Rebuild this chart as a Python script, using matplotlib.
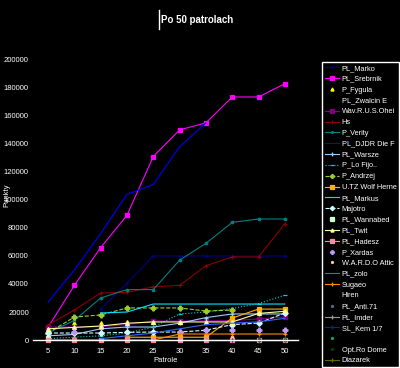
import numpy as np
import matplotlib
matplotlib.use('Agg')
import matplotlib.pyplot as plt
from matplotlib.lines import Line2D

nan = np.nan

# ==========================================
# Data (points after each patrol)
# ==========================================
patrole = [5, 10, 15, 20, 25, 30, 35, 40, 45, 50]

pl_marko = [nan, nan, 22000, 40500, 60000, 60000, 60000, 60000, 60000, 60000]
pl_srebrnik = [9000, 39000, 66000, 89000, 131000, 150000, 155000, 173500, 173500, 183000]
p_fygula = [9300, 12000, 12000, 13000, 13000, 13000, 13000, 15500, 20500, 20000]
pl_zwalcin = [nan, nan, nan, nan, nan, nan, nan, nan, nan, nan]
wav_russ = [9300, 9300, 9500, 11000, 13600, 13600, 13600, 14000, 15000, 16500]
hs = [10700, 21400, 33600, 34000, 38000, 39000, 53000, 59300, 59300, 83000]
p_verity = [5000, 14000, 30000, 36000, 36000, 57000, 69000, 84000, 86400, 86400]
pl_djdr = [27000, 50000, 76000, 104000, 111000, 138000, 155000, nan, nan, nan]
pl_warsze = [3000, 4000, 8000, 9300, 9300, 12000, 16000, 18600, 18600, 18600]
p_lo = [1000, 2000, 3000, 5000, 9300, 18600, 20000, 22500, 26000, 32000]
p_andrzej = [5000, 16400, 17900, 22900, 22900, 22900, 20700, 21400, nan, nan]
utz_wolf = [nan, nan, nan, 2000, 2000, 2000, 2000, 15700, 22100, 22100]
pl_markus = [nan, nan, 19300, 20000, 25700, 25700, 25700, 25700, 25700, 25700]
majotro = [5000, 5000, 5000, 5500, 5700, 5700, 7000, 11000, 12100, 19300]
pl_wannabed = [1500, nan, nan, nan, nan, nan, nan, nan, nan, nan]
pl_twit = [8000, 9000, 10000, 12000, 12900, 12900, 12900, 12900, 19000, 20500]
pl_hadesz = [0, 0, 0, 0, 0, 0, 0, 0, 0, 0]
p_xardas = [nan, 5700, nan, nan, nan, 5700, 7000, 7100, 7100, 7100]
warddo = [nan, nan, nan, nan, nan, nan, nan, 2000, nan, nan]
pl_zolo = [nan, nan, 1000, 3000, 5000, 8000, 11000, 12000, 13000, 15500]
sugaeo = [0, 0, 0, 0, 0, 4300, 4300, 4300, 4300, 4300]
hiren = [nan, nan, nan, nan, nan, nan, nan, nan, nan, nan]
pl_anti = [nan, nan, nan, nan, nan, nan, nan, nan, 1000, 1000]
pl_imder = [nan, nan, nan, nan, nan, nan, 0, 0, 0, 0]
sl_kem = [nan, nan, nan, nan, nan, nan, nan, 0, 0, 0]
bez_nazwy = [nan, nan, nan, nan, nan, nan, nan, nan, nan, 500]
opt_ro = [nan, nan, nan, nan, nan, nan, nan, nan, 300, 300]
diazarek = [nan, nan, nan, nan, nan, nan, nan, nan, nan, 0]

# label, values, colour, marker, linestyle
series = [
    ('PL_Marko', pl_marko, '#000080', '+', '-'),
    ('PL_Srebrnik', pl_srebrnik, '#FF00FF', 's', '-'),
    ('P_Fygula', p_fygula, '#FFFF00', '^', 'none'),
    ('PL_Zwalcin E', pl_zwalcin, '#000000', '', '-'),
    ('Wav.R.U.S.Ohei', wav_russ, '#800080', 's', '-'),
    ('Hs', hs, '#8B0000', '+', '-'),
    ('P_Verity', p_verity, '#008080', '.', '-'),
    ('PL_DJDR Die F', pl_djdr, '#0000FF', '', '-'),
    ('PL_Warsze', pl_warsze, '#99CCFF', '+', '-'),
    ('P_Lo Fijo..', p_lo, '#00CED1', '_', ':'),
    ('P_Andrzej', p_andrzej, '#9ACD32', 'P', '--'),
    ('U.TZ Wolf Herne', utz_wolf, '#FFB000', 's', '-'),
    ('PL_Markus', pl_markus, '#00E5FF', '', '-'),
    ('Majotro', majotro, '#CCFFFF', 'D', '--'),
    ('PL_Wannabed', pl_wannabed, '#CCFFCC', 's', 'none'),
    ('PL_Twit', pl_twit, '#FFFF99', '^', '-'),
    ('PL_Hadesz', pl_hadesz, '#FF88AA', 's', '-'),
    ('P_Xardas', p_xardas, '#BB99FF', 'P', 'none'),
    ('W.A.R.D.O Attic', warddo, '#FFCC99', '.', 'none'),
    ('PL_zolo', pl_zolo, '#3366FF', '', '-'),
    ('Sugaeo', sugaeo, '#FF8C00', '+', '-'),
    ('Hiren', hiren, '#000000', '', '-'),
    ('PL_Anti.71', pl_anti, '#556699', '.', 'none'),
    ('PL_Imder', pl_imder, '#999999', '+', '-'),
    ('SL_Kem 1/7', sl_kem, '#003366', '+', '-'),
    (' ', bez_nazwy, '#00AA66', '.', 'none'),
    ('Opt.Ro Dome', opt_ro, '#004400', '.', 'none'),
    ('Diazarek', diazarek, '#666600', '+', '-'),
]

# ==========================================
# Plot
# ==========================================
plt.rcParams['font.family'] = ['Liberation Sans', 'DejaVu Sans']
fig = plt.figure(figsize=(4.0, 3.68), dpi=100, facecolor='black')
ax = fig.add_axes([0.0825, 0.076, 0.6625, 0.788], facecolor='black')

for label, vals, color, marker, ls in series:
    ms = 2.8 if marker in ('s', 'D', '^') else 3.5
    ax.plot(patrole, vals, color=color, marker=marker, linestyle=ls,
            linewidth=0.8, markersize=ms, markeredgewidth=0.9,
            label=label, clip_on=False)

ax.set_xlim(2.15, 52.5)
ax.set_ylim(0, 207000)
ax.set_xticks(patrole)
ax.set_yticks(np.arange(0, 200001, 20000))
ax.tick_params(colors='white', labelsize=5.5, length=0)
ax.tick_params(axis='y', pad=3)
ax.tick_params(axis='x', pad=6)
for s in ['top', 'right', 'left']:
    ax.spines[s].set_visible(False)
ax.spines['bottom'].set_color('white')
ax.spines['bottom'].set_linewidth(1.0)

ax.set_xlabel('Patrole', color='white', fontsize=5.5, labelpad=1)
ax.set_ylabel('Punkty', color='white', fontsize=5.5)
ax.yaxis.set_label_coords(-0.085, 0.5)

fig.text(0.403, 0.945, 'Po 50 patrolach', color='white', fontsize=7,
         fontweight='bold', ha='left', va='center')
fig.add_artist(Line2D([0.398, 0.398], [0.921, 0.973], color='white',
                      linewidth=1.0, transform=fig.transFigure))

leg = ax.legend(loc='upper left', bbox_to_anchor=(0.805, 0.832),
                bbox_transform=fig.transFigure, fontsize=5.3,
                facecolor='black', edgecolor='white', framealpha=1,
                labelcolor='white', fancybox=False, handlelength=1.9,
                handletextpad=0.35, labelspacing=0.5, borderpad=0.4,
                borderaxespad=0, markerscale=0.8)
leg.get_frame().set_linewidth(1.0)

fig.savefig('out.png', dpi=100, facecolor='black')
